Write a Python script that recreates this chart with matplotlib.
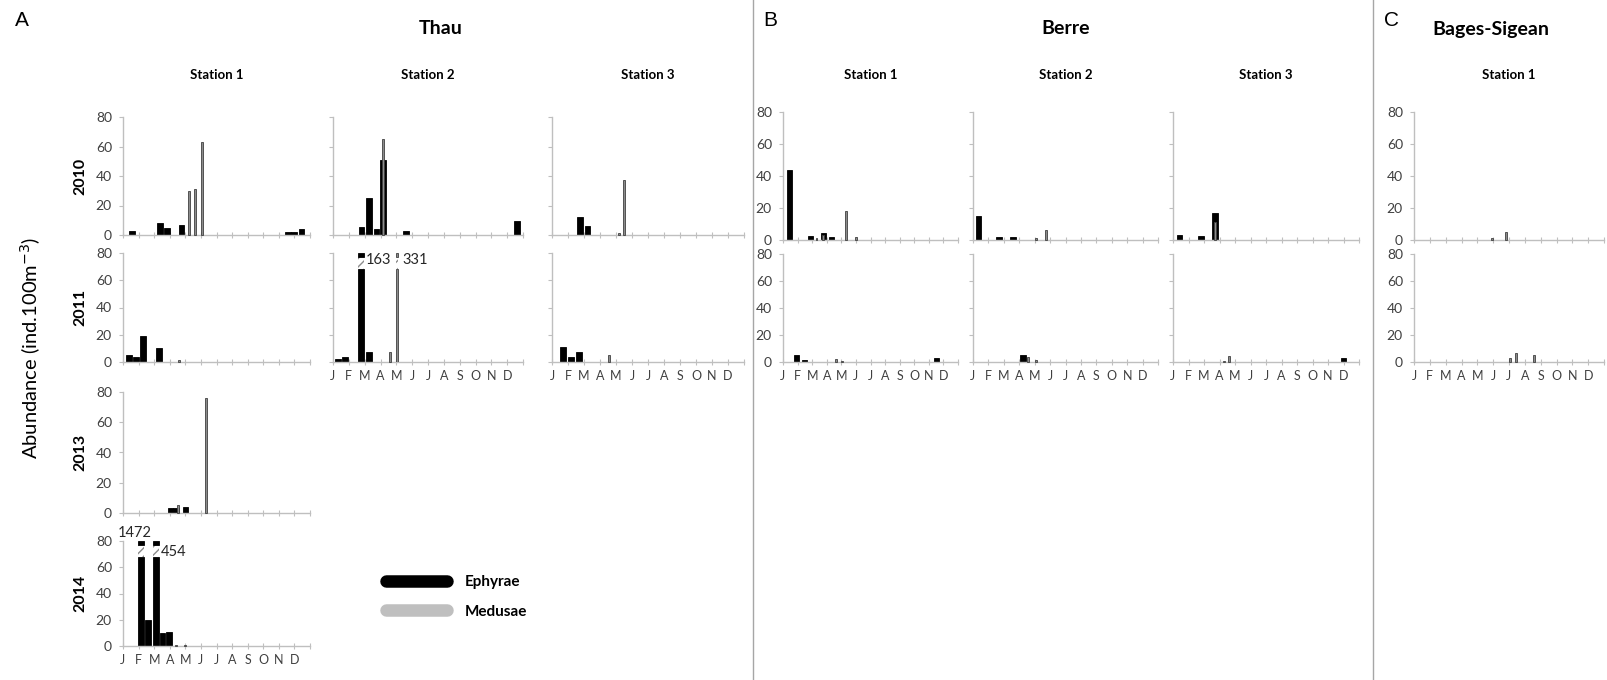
import matplotlib.pyplot as plt
from matplotlib.lines import Line2D

plt.rcParams['font.family'] = ['Lato', 'DejaVu Sans']

W, H = 1607, 680
months = ['J', 'F', 'M', 'A', 'M', 'J', 'J', 'A', 'S', 'O', 'N', 'D']
yticks = [0, 20, 40, 60, 80]

# (month position, abundance) - month 0 = 1 January
thau1_2010_eph = [(0.56, 3), (2.37, 8), (2.84, 5), (3.76, 7), (10.6, 2), (10.96, 2), (11.45, 4)]
thau1_2010_med = [(4.25, 30), (4.62, 31), (5.08, 63)]
thau1_2011_eph = [(0.38, 5.5), (0.83, 4), (1.3, 19), (2.3, 10.5)]
thau1_2011_med = [(3.6, 1.5)]
thau1_2013_eph = [(3.05, 3), (3.4, 3), (4.0, 4)]
thau1_2013_med = [(3.5, 5), (5.3, 76)]
thau1_2014_eph = [(1.15, 1472), (1.62, 20), (2.1, 454), (2.54, 10), (2.97, 11)]
thau1_2014_med = [(3.4, 1), (4.0, 1)]
thau2_2010_eph = [(1.8, 5.5), (2.26, 25), (2.75, 4), (3.17, 51), (4.6, 3), (11.6, 9.5)]
thau2_2010_med = [(3.17, 65)]
thau2_2011_eph = [(0.32, 2), (0.74, 4), (1.75, 163), (2.26, 7)]
thau2_2011_med = [(3.6, 7), (4.07, 331)]
thau3_2010_eph = [(1.77, 12), (2.22, 6)]
thau3_2010_med = [(4.16, 1.5), (4.5, 37)]
thau3_2011_eph = [(0.69, 11), (1.18, 4), (1.71, 7)]
thau3_2011_med = [(3.54, 5)]
berre1_2010_eph = [(0.45, 44), (1.87, 2.5), (2.77, 4.5), (3.3, 2)]
berre1_2010_med = [(2.3, 1), (2.77, 3), (4.3, 18), (5.0, 2)]
berre1_2011_eph = [(0.91, 5), (1.48, 1.5), (10.5, 3.3)]
berre1_2011_med = [(3.65, 2), (4.05, 1)]
berre2_2010_eph = [(0.37, 15), (1.7, 2), (2.6, 2)]
berre2_2010_med = [(4.1, 1), (4.72, 6.5)]
berre2_2011_eph = [(3.25, 5.5)]
berre2_2011_med = [(3.58, 4), (4.06, 1.5)]
berre3_2010_eph = [(0.43, 3.3), (1.8, 2.3), (2.7, 17)]
berre3_2010_med = [(2.7, 11)]
berre3_2011_eph = [(11.0, 3)]
berre3_2011_med = [(3.3, 1), (3.6, 4.5)]
bages1_2010_eph = []
bages1_2010_med = [(4.9, 1), (5.8, 5)]
bages1_2011_eph = []
bages1_2011_med = [(6.06, 3), (6.45, 7), (7.55, 5)]

fig = plt.figure(figsize=(W / 100, H / 100), dpi=100)


def add_ax(x0, x1, ytop, ybot):
    return fig.add_axes([x0 / W, 1 - ybot / H, (x1 - x0) / W, (ybot - ytop) / H])


def draw(ax, data, width, fc, ec, z, label_pos=None):
    for x, v in data:
        if v <= 80:
            ax.bar(x, v, width, color=fc, edgecolor=ec, linewidth=0.6, zorder=z, clip_on=False)
        else:
            ax.bar(x, 68, width, color=fc, edgecolor=ec, linewidth=0.6, zorder=z)
            ax.bar(x, 9, width, bottom=68, color='white', edgecolor='#8c8c8c',
                   hatch='////', linewidth=0, zorder=z)
            ax.bar(x, 3, width, bottom=77, color=fc, edgecolor=ec, linewidth=0.6,
                   zorder=z, clip_on=False)
            dx, dy, ha = label_pos.get(v, (0.3, 72, 'left'))
            ax.text(x + dx, dy, str(v), ha=ha, va='center', fontsize=10.5,
                    color='#262626', clip_on=False)


def panel(rect, eph, med, ylab=False, xlab=False, year=None):
    ax = add_ax(*rect)
    draw(ax, eph, 0.36, 'black', 'black', 2,
         {1472: (-0.4, 86, 'center'), 454: (0.3, 72, 'left'), 163: (0.3, 75, 'left')})
    draw(ax, med, 0.13, '#8c8c8c', '#404040', 3, {331: (0.3, 75, 'left')})
    ax.set_xlim(0, 12)
    ax.set_ylim(0, 80)
    ax.set_yticks(yticks)
    ax.set_xticks(range(13))
    ax.set_xticklabels(months + [''] if xlab else [''] * 13)
    if not ylab:
        ax.set_yticklabels([''] * 5)
    for s in ['top', 'right']:
        ax.spines[s].set_visible(False)
    for s in ['left', 'bottom']:
        ax.spines[s].set_color('#bfbfbf')
        ax.spines[s].set_linewidth(1)
    ax.tick_params(axis='y', length=3, color='#bfbfbf', labelsize=10,
                   labelcolor='#404040', pad=5)
    ax.tick_params(axis='x', length=4, direction='inout', color='#bfbfbf',
                   labelsize=9, labelcolor='#404040', pad=4)
    if year:
        fig.text(80 / W, 1 - (rect[2] + rect[3]) / 2 / H, year, rotation=90,
                 ha='center', va='center', fontsize=11.5, fontweight='bold')
    return ax


# Thau
tx1, tx2, tx3 = (123, 310), (333, 523), (552, 744)
rows_t = [(117, 235), (253, 362), (392, 513), (541, 646)]
panel(tx1 + rows_t[0], thau1_2010_eph, thau1_2010_med, ylab=True, year='2010')
panel(tx1 + rows_t[1], thau1_2011_eph, thau1_2011_med, ylab=True, year='2011')
panel(tx1 + rows_t[2], thau1_2013_eph, thau1_2013_med, ylab=True, year='2013')
panel(tx1 + rows_t[3], thau1_2014_eph, thau1_2014_med, ylab=True, xlab=True, year='2014')
panel(tx2 + rows_t[0], thau2_2010_eph, thau2_2010_med)
panel(tx2 + rows_t[1], thau2_2011_eph, thau2_2011_med, xlab=True)
panel(tx3 + rows_t[0], thau3_2010_eph, thau3_2010_med)
panel(tx3 + rows_t[1], thau3_2011_eph, thau3_2011_med, xlab=True)

# Berre
bx1, bx2, bx3 = (783, 958), (973, 1158), (1173, 1359)
rows_b = [(112, 240), (254, 362)]
panel(bx1 + rows_b[0], berre1_2010_eph, berre1_2010_med, ylab=True)
panel(bx1 + rows_b[1], berre1_2011_eph, berre1_2011_med, ylab=True, xlab=True)
panel(bx2 + rows_b[0], berre2_2010_eph, berre2_2010_med)
panel(bx2 + rows_b[1], berre2_2011_eph, berre2_2011_med, xlab=True)
panel(bx3 + rows_b[0], berre3_2010_eph, berre3_2010_med)
panel(bx3 + rows_b[1], berre3_2011_eph, berre3_2011_med, xlab=True)

# Bages-Sigean
gx1 = (1414, 1604)
panel(gx1 + rows_b[0], bages1_2010_eph, bages1_2010_med, ylab=True)
panel(gx1 + rows_b[1], bages1_2011_eph, bages1_2011_med, ylab=True, xlab=True)

# titles
for letter, x in [('A', 15), ('B', 763), ('C', 1384)]:
    fig.text(x / W, 1 - 20 / H, letter, fontsize=15, family='Liberation Sans',
             ha='left', va='center')
for site, x in [('Thau', 441), ('Berre', 1066), ('Bages-Sigean', 1491)]:
    fig.text(x / W, 1 - 29 / H, site, fontsize=14, fontweight='bold',
             ha='center', va='center')
for name, (x0, x1) in [('Station 1', tx1), ('Station 2', tx2), ('Station 3', tx3),
                       ('Station 1', bx1), ('Station 2', bx2), ('Station 3', bx3),
                       ('Station 1', gx1)]:
    fig.text((x0 + x1) / 2 / W, 1 - 75 / H, name, fontsize=9.5, fontweight='bold',
             ha='center', va='center')

fig.text(31 / W, 1 - 348 / H, 'Abundance (ind.100m$^{-3}$)', rotation=90,
         fontsize=14.5, ha='center', va='center')

# separators
for x in [753, 1373]:
    fig.add_artist(Line2D([x / W, x / W], [0, 1], color='#a6a6a6', lw=1))

# legend
handles = [Line2D([], [], color='black', lw=9, solid_capstyle='round'),
           Line2D([], [], color='#bfbfbf', lw=9, solid_capstyle='round')]
fig.legend(handles, ['Ephyrae', 'Medusae'], loc='center left',
           bbox_to_anchor=(372 / W, 1 - 597 / H), frameon=False, handlelength=4,
           handletextpad=1.2, labelspacing=1.0, prop={'weight': 'bold', 'size': 11})

fig.savefig('out.png', dpi=100)
